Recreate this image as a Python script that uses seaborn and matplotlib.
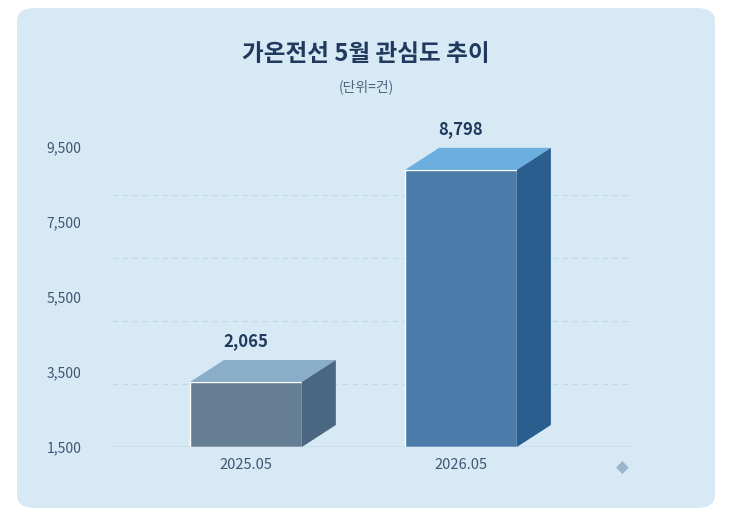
import matplotlib
matplotlib.use("Agg")
import matplotlib.pyplot as plt
import seaborn as sns
import pandas as pd
from matplotlib.patches import FancyBboxPatch, Polygon

periods = ["2025.05", "2026.05"]
counts = [2065, 8798]
tick_labels = ["1,500", "3,500", "5,500", "7,500", "9,500"]
tick_pos = [0, 2382, 4764, 7146, 9528]
grid_vals = [2000, 4000, 6000, 8000]

front = ["#5f7f9a", "#3a7bb9"]
top = ["#8aaec8", "#6aafe0"]
side = ["#4b6680", "#2a5e8e"]

sns.set_theme(style="white")
plt.rcParams["font.family"] = ["Noto Sans CJK KR", "DejaVu Sans"]

fig = plt.figure(figsize=(7.32, 5.16), dpi=100)
fig.patch.set_facecolor("white")

# background panel in its own axes, drawn below the chart
bg = fig.add_axes([0, 0, 1, 1], zorder=0)
bg.axis("off")
bg.add_patch(FancyBboxPatch((17 / 732, 8 / 516), 698 / 732, 500 / 516,
                            boxstyle="round,pad=0,rounding_size=0.025",
                            transform=bg.transAxes, facecolor="#d6e9f5",
                            edgecolor="none"))

ax = fig.add_axes([112 / 732, (516 - 447) / 516, 518 / 732, 315 / 516], zorder=2)
ax.set_facecolor("none")
df = pd.DataFrame({"period": periods, "count": counts})
w = 0.52
sns.barplot(data=df, x="period", y="count", hue="period", palette=front,
            width=w, legend=False, ax=ax, zorder=3)

dx, dy = 0.158, 698
for i, v in enumerate(counts):
    l, r = i - w / 2, i + w / 2
    ax.add_patch(Polygon([(l, v), (r, v), (r + dx, v + dy), (l + dx, v + dy)],
                         facecolor=top[i], edgecolor="none", zorder=3))
    ax.add_patch(Polygon([(r, 0), (r + dx, dy), (r + dx, v + dy), (r, v)],
                         facecolor=side[i], edgecolor="none", zorder=3))
    ax.text(i, v + dy + 300, f"{v:,}", ha="center", va="bottom",
            fontsize=12, fontweight="bold", color="#1f3a5c")

for g in grid_vals:
    ax.axhline(g, color="#c2d8e8", lw=0.8, ls=(0, (5, 4)), zorder=1)
ax.axhline(0, color="#9fb3c4", lw=1, zorder=4)

ax.set_xlim(-0.623, 1.786)
ax.set_ylim(0, 10000)
ax.set_yticks(tick_pos)
ax.set_yticklabels(tick_labels)
ax.tick_params(axis="y", length=0, labelsize=10, labelcolor="#3d5672", pad=47)
ax.tick_params(axis="x", length=0, labelsize=10.5, labelcolor="#3d5672", pad=8)
for lab in ax.get_yticklabels():
    lab.set_horizontalalignment("left")
ax.set_xlabel("")
ax.set_ylabel("")
sns.despine(ax=ax, left=True, bottom=True)

fig.text(0.5, (516 - 54) / 516, "가온전선 5월 관심도 추이", ha="center", va="center",
         fontsize=17, fontweight="bold", color="#1f3a5c", zorder=3)
fig.text(0.5, (516 - 87) / 516, "(단위=건)", ha="center", va="center",
         fontsize=10, color="#4d6680", zorder=3)
fig.text(622 / 732, (516 - 468) / 516, "◆", ha="center", va="center",
         fontsize=12, color="#9bb4cc", family=["DejaVu Sans"], zorder=3)

fig.savefig("out.png", dpi=100)
